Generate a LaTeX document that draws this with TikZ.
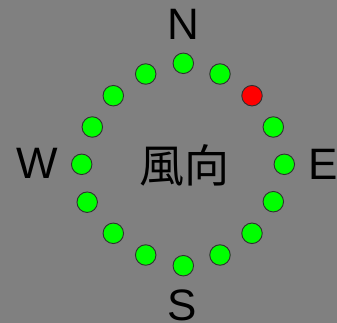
\documentclass[tikz,border=0pt]{standalone}
\usepackage{fontspec}
\setmainfont{Liberation Sans}
\newfontfamily\cjk{Noto Sans CJK JP}
\definecolor{bg}{HTML}{808080}
\definecolor{ledgreen}{HTML}{00FF00}
\definecolor{ledred}{HTML}{FF0000}
\definecolor{ledrim}{HTML}{303030}
\begin{document}
\begin{tikzpicture}[x=1pt,y=-1pt,
  led/.style={circle,draw=ledrim,line width=0.9pt,fill=ledgreen,minimum size=20.5pt,inner sep=0pt},
  ledon/.style={led,fill=ledred},
  dir/.style={inner sep=0pt,font=\fontsize{44}{44}\selectfont,text=black},
  title/.style={inner sep=0pt,font=\cjk\fontsize{45}{45}\selectfont,text=black}]
\fill[bg] (0,0) rectangle (337,323);
\useasboundingbox (0,0) rectangle (337,323);
\node[led] (c1) at (183.3,63.3) {};
\node[led] (c2) at (220,74) {};
\node[ledon] (c3) at (252,95.7) {};
\node[led] (c4) at (273.3,127) {};
\node[led] (c5) at (284.3,164.3) {};
\node[led] (c6) at (273.3,201.7) {};
\node[led] (c7) at (252,233.3) {};
\node[led] (c8) at (220,255) {};
\node[led] (c9) at (183.3,265.7) {};
\node[led] (c10) at (145.7,255) {};
\node[led] (c11) at (113.3,233.3) {};
\node[led] (c12) at (87.2,202.2) {};
\node[led] (c13) at (81.7,164.3) {};
\node[led] (c14) at (92.3,127) {};
\node[led] (c15) at (113.3,95.7) {};
\node[led] (c16) at (145.7,74) {};
\node[dir] (lN) at (183.3,24.3) {N};
\node[dir] (lE) at (323.5,164) {E};
\node[dir] (lS) at (182.5,305.5) {S};
\node[dir] (lW) at (37,163.8) {W};
\node[title] (t) at (184,165.5) {風向};
\end{tikzpicture}
\end{document}
